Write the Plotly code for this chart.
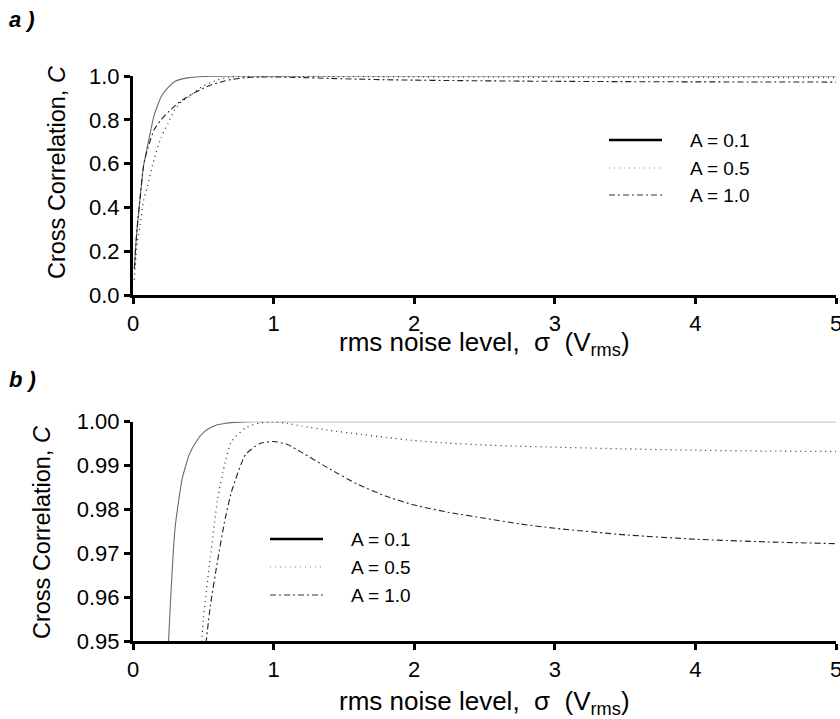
import plotly.graph_objects as go

# ---------------- data ----------------
sigma = [0.01, 0.02, 0.03, 0.05, 0.075, 0.1, 0.15, 0.2, 0.25, 0.3, 0.35, 0.4, 0.45,
         0.5, 0.55, 0.6, 0.65, 0.7, 0.8, 0.9, 1.0, 1.1, 1.2, 1.4, 1.6, 1.8, 2.0,
         2.25, 2.5, 2.75, 3.0, 3.5, 4.0, 4.5, 5.0]

c_a01 = [0.12, 0.23, 0.31, 0.44, 0.59, 0.67, 0.82, 0.905, 0.948, 0.976, 0.987, 0.9925,
         0.9955, 0.9975, 0.9986, 0.9993, 0.9996, 0.9998, 0.99995, 1.0, 1.0, 1.0, 1.0,
         1.0, 1.0, 1.0, 1.0, 1.0, 1.0, 1.0, 1.0, 1.0, 1.0, 1.0, 1.0]

c_a05 = [0.07, 0.17, 0.24, 0.32, 0.43, 0.49, 0.62, 0.72, 0.785, 0.85, 0.885, 0.905,
         0.932, 0.955, 0.969, 0.982, 0.990, 0.9955, 0.9986, 0.9997, 1.0, 0.9996, 0.999,
         0.998, 0.9972, 0.9964, 0.9957, 0.9951, 0.9947, 0.9944, 0.9942, 0.9938, 0.9935,
         0.9933, 0.9932]

c_a10 = [0.12, 0.23, 0.31, 0.44, 0.59, 0.66, 0.755, 0.80, 0.835, 0.865, 0.89, 0.91,
         0.928, 0.944, 0.958, 0.968, 0.977, 0.984, 0.9925, 0.995, 0.9955, 0.9948, 0.993,
         0.9892, 0.9857, 0.983, 0.981, 0.9793, 0.978, 0.9767, 0.9757, 0.9742, 0.9732,
         0.9726, 0.9722]

series_names = ["A = 0.1", "A = 0.5", "A = 1.0"]
series_values = [c_a01, c_a05, c_a10]

x_ticks = [0, 1, 2, 3, 4, 5]
ya_ticks = [0.0, 0.2, 0.4, 0.6, 0.8, 1.0]
yb_ticks = [0.95, 0.96, 0.97, 0.98, 0.99, 1.00]

# ---------------- styles ----------------
styles = [
    dict(color="#6a6a6a", width=1.1, dash="solid"),
    dict(color="#333333", width=1.3, dash="1px,4px"),
    dict(color="#222222", width=1.1, dash="6px,3px,2px,3px"),
]
legend_styles = [
    dict(color="#000000", width=2.6, dash="solid"),
    dict(color="#888888", width=1.0, dash="1px,4px"),
    dict(color="#333333", width=1.2, dash="6px,3px,2px,3px"),
]

FONT = "Arial, Liberation Sans, sans-serif"
W, H = 840, 719
ML, MR, MT, MB = 133, 4, 76, 78
PW, PH = W - ML - MR, H - MT - MB


def px(x):
    return (x - ML) / PW


def py(y):
    return (H - MB - y) / PH


fig = go.Figure()
for name, vals, st in zip(series_names, series_values, styles):
    for xa, ya in (("x", "y"), ("x2", "y2")):
        fig.add_trace(go.Scatter(
            x=sigma, y=vals, mode="lines", name=name, xaxis=xa, yaxis=ya,
            line=dict(color=st["color"], width=st["width"], dash=st["dash"],
                      shape="spline", smoothing=0.5),
            showlegend=False, hoverinfo="x+y"))

axis_common = dict(showline=True, linecolor="black", linewidth=3, ticks="outside",
                   ticklen=6, tickwidth=3, tickcolor="black", showgrid=False,
                   zeroline=False, automargin=False,
                   tickfont=dict(family=FONT, size=22, color="black"))

dom_a = [py(295), 1.0]
dom_b = [0.0, py(421.7)]

fig.update_layout(
    width=W, height=H,
    margin=dict(l=ML, r=MR, t=MT, b=MB),
    paper_bgcolor="white", plot_bgcolor="white",
    xaxis=dict(axis_common, range=[0, 5], tickvals=x_ticks, anchor="y",
               ticklabelstandoff=1, ticklabeloverflow="allow"),
    yaxis=dict(axis_common, range=[0, 1.0], tickvals=ya_ticks, tickformat=".1f",
               domain=dom_a, anchor="x"),
    xaxis2=dict(axis_common, range=[0, 5], tickvals=x_ticks, anchor="y2",
                ticklabelstandoff=1, ticklabeloverflow="allow"),
    yaxis2=dict(axis_common, range=[0.95, 1.0], tickvals=yb_ticks, tickformat=".2f",
                domain=dom_b, anchor="x2"),
    showlegend=False,
)

ann = []
shapes = []
# panel labels
for lab, yc in (("a )", 20), ("b )", 379)):
    ann.append(dict(text="<b><i>%s</i></b>" % lab, x=px(7), y=py(yc), xref="paper",
                    yref="paper", xanchor="left", yanchor="middle", showarrow=False,
                    font=dict(family=FONT, size=22, color="black")))
# axis titles
xtitle = "rms noise level,  \u03c3  (V<sub>rms</sub>)"
for yc in (343, 702):
    ann.append(dict(text=xtitle, x=px(484.5), y=py(yc), xref="paper", yref="paper",
                    xanchor="center", yanchor="middle", showarrow=False,
                    font=dict(family=FONT, size=26, color="black")))
for xc, yc in ((57, 172), (42, 532)):
    ann.append(dict(text="Cross Correlation, <i>C</i>", x=px(xc), y=py(yc), xref="paper",
                    yref="paper", xanchor="center", yanchor="middle", textangle=-90,
                    showarrow=False, font=dict(family=FONT, size=23.5, color="black")))

# legends
legend_pos = [((609, 662, 688), (140, 168, 195)), ((270, 323, 349), (539, 567, 595))]
for (x0, x1, xt), ys in legend_pos:
    for name, st, yy in zip(series_names, legend_styles, ys):
        shapes.append(dict(type="line", xref="paper", yref="paper",
                           x0=px(x0), x1=px(x1), y0=py(yy), y1=py(yy),
                           line=dict(color=st["color"], width=st["width"], dash=st["dash"])))
        ann.append(dict(text=name, x=px(xt), y=py(yy), xref="paper", yref="paper",
                        xanchor="left", yanchor="middle", showarrow=False,
                        font=dict(family=FONT, size=19, color="black")))

fig.update_layout(annotations=ann, shapes=shapes)
fig.write_html("out.html", config={"displayModeBar": False},
               post_script="document.body.style.margin='0';document.body.style.overflow='hidden';")
